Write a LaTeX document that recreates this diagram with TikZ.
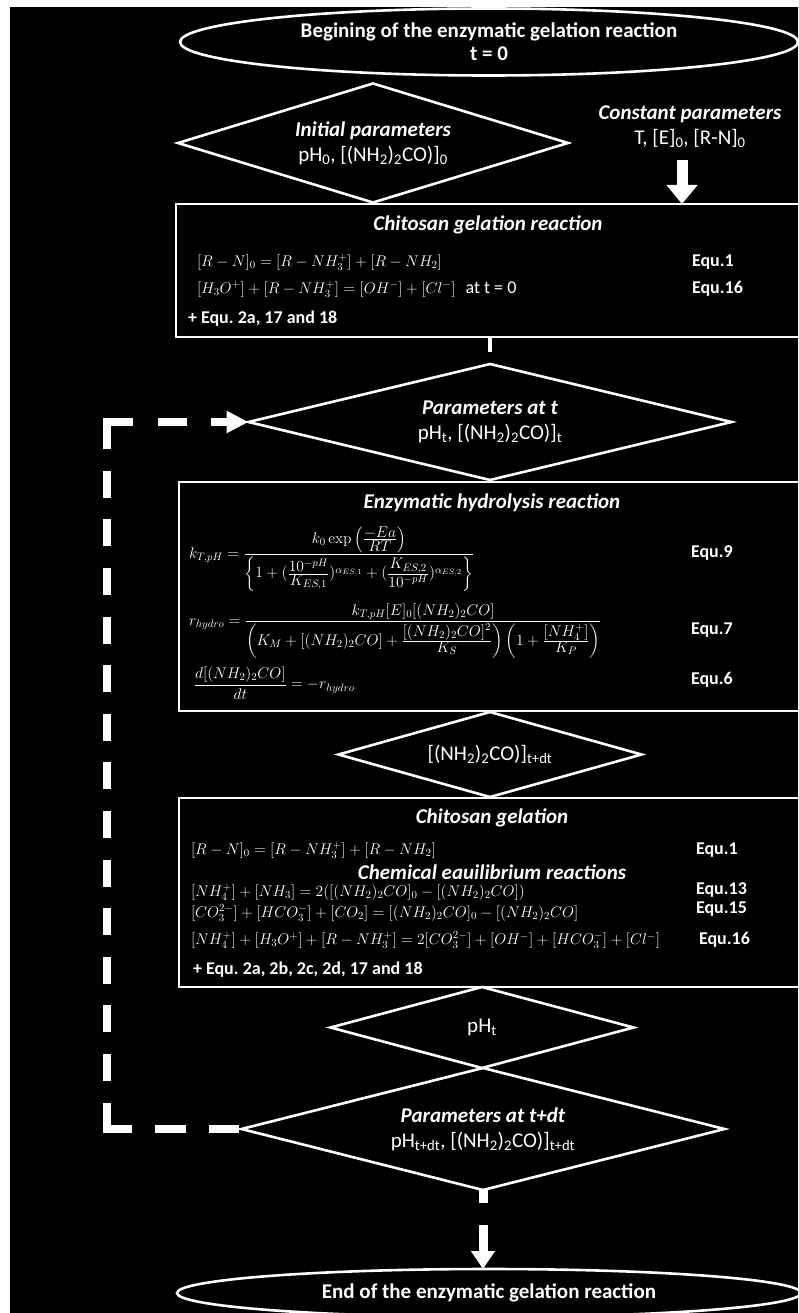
\RequirePackage{fix-cm}
\documentclass[tikz,border=0pt]{standalone}
\usepackage{amsmath}
\usepackage[no-math]{fontspec}
\setmainfont{Carlito}
\usetikzlibrary{shapes.geometric,arrows.meta}
\newcommand{\subx}[1]{\textsubscript{#1}}
\newcommand{\tsfrac}[2]{\frac{\textstyle #1}{\textstyle #2}}
\frenchspacing
\begin{document}
\begin{tikzpicture}[x=1pt,y=-1pt,
  every node/.style={text=white, inner sep=0pt, outer sep=0pt},
  outl/.style={draw=white, line width=2.6pt},
  termnode/.style={outl, ellipse, align=center, font=\bfseries\fontsize{21}{23}\selectfont},
  dianode/.style={outl, diamond, align=center, font=\fontsize{21}{25}\selectfont},
  boxnode/.style={outl, rectangle},
  ttl/.style={font=\bfseries\itshape\fontsize{21}{23}\selectfont},
  eqn/.style={anchor=west, font=\fontsize{15.5}{18}\selectfont},
  lbl/.style={anchor=west, font=\bfseries\fontsize{18}{22}\selectfont},
  loopline/.style={draw=white, line width=8pt,
    dash pattern=on 0pt off 3pt on 30pt off 23pt on 31pt off 23pt on 51pt
      off 21.6pt on 27pt off 21.6pt on 27pt off 21.6pt on 27pt off 21.6pt on 27pt
      off 21.6pt on 27pt off 21.6pt on 27pt off 21.6pt on 27pt off 21.6pt on 27pt
      off 21.6pt on 27pt off 21.6pt on 27pt off 21.6pt on 27pt off 21.6pt on 27pt
      off 21.6pt on 27pt
      off 21.6pt on 53pt off 25pt on 29pt off 24pt on 100pt,
    -{Triangle[width=21pt,length=22pt]}},
  bigarrow/.style={draw=white, line width=11pt, -{Triangle[width=30pt,length=19pt]}},
  endarrow/.style={draw=white, line width=9pt, dash pattern=on 13pt off 22pt on 60pt off 0pt, -{Triangle[width=23pt,length=18pt]}},
  shortline/.style={draw=white, line width=3.5pt, dash pattern=on 15pt off 40pt},
]
\useasboundingbox (0,0) rectangle (798,1313);
\fill[white] (0,0) rectangle (798,1313);
\fill[black] (10,7) rectangle (798,1313);

% terminals
\node[termnode, minimum width=618pt, minimum height=67pt] (start) at (489,42)
  {Begining of the enzymatic gelation reaction\\t = 0};
\node[termnode, minimum width=624pt, minimum height=48pt] (end) at (489,1293)
  {End of the enzymatic gelation reaction};

% initial parameters
\node[dianode, minimum width=390pt, minimum height=119pt, aspect=3.28] (p0) at (373,143)
  {\textbf{\textit{Initial parameters}}\\pH\subx{0}, [(NH\subx{2})\subx{2}CO)]\subx{0}};
\node[align=center, font=\fontsize{21}{25}\selectfont] (cpar) at (690,127)
  {\textbf{\textit{Constant parameters}}\\T, [E]\subx{0}, [R-N]\subx{0}};

% box 1
\node[boxnode, minimum width=644pt, minimum height=133pt] (box1) at (498,270.5) {};
\node[ttl] (b1t) at (488,225) {Chitosan gelation reaction};
\node[eqn] (b1e1) at (197,262) {$[R-N]_0=[R-NH_3^+]+[R-NH_2]$};
\node[eqn] (b1e2) at (197,289) {$[H_3O^+]+[R-NH_3^+]=[OH^-]+[Cl^-]$\hspace{10pt}{\fontsize{18}{22}\selectfont at t = 0}};
\node[lbl] (b1n) at (188,319) {+ Equ. 2a, 17 and 18};
\node[lbl] (b1l1) at (692,262) {Equ.1};
\node[lbl] (b1l2) at (692,289) {Equ.16};

% parameters at t
\node[dianode, minimum width=483pt, minimum height=116pt, aspect=4.16] (p1) at (490,422)
  {\textbf{\textit{Parameters at t}}\\pH\subx{t}, [(NH\subx{2})\subx{2}CO)]\subx{t}};

% box 2
\node[boxnode, minimum width=641pt, minimum height=229pt] (box2) at (499.5,596.5) {};
\node[ttl] (b2t) at (492,503) {Enzymatic hydrolysis reaction};
\node[eqn] (b2e1) at (189,559) {$k_{T,pH}=\dfrac{k_0\exp\left(\tsfrac{-Ea}{RT}\right)}{\left\{1+(\tsfrac{10^{-pH}}{K_{ES,1}})^{\alpha_{ES,1}}+(\tsfrac{K_{ES,2}}{10^{-pH}})^{\alpha_{ES,2}}\right\}}$};
\node[eqn] (b2e2) at (189,631) {$r_{hydro}=\dfrac{k_{T,pH}[E]_0[(NH_2)_2CO]}{\left(K_M+[(NH_2)_2CO]+\tsfrac{[(NH_2)_2CO]^2}{K_S}\right)\left(1+\tsfrac{[NH_4^+]}{K_P}\right)}$};
\node[eqn] (b2e3) at (194,683) {$\dfrac{d[(NH_2)_2CO]}{dt}=-r_{hydro}$};
\node[lbl] (b2l1) at (691,553) {Equ.9};
\node[lbl] (b2l2) at (691,630) {Equ.7};
\node[lbl] (b2l3) at (691,680) {Equ.6};

% urea at t+dt
\node[dianode, minimum width=303pt, minimum height=85pt, aspect=3.56] (pm) at (490,754.5)
  {[(NH\subx{2})\subx{2}CO)]\subx{t+dt}};

% box 3
\node[boxnode, minimum width=641pt, minimum height=189pt] (box3) at (499.5,892.5) {};
\node[ttl] (b3t) at (492,818) {Chitosan gelation};
\node[eqn] (b3e1) at (191,850) {$[R-N]_0=[R-NH_3^+]+[R-NH_2]$};
\begin{scope}
\clip (300,858) rectangle (700,878.5);
\node[ttl, text depth=0pt, anchor=base] (b3c) at (492,879.5) {Chemical equilibrium reactions};
\end{scope}
\node[eqn] (b3e2) at (191,892) {$[NH_4^+]+[NH_3]=2([(NH_2)_2CO]_0-[(NH_2)_2CO])$};
\node[eqn] (b3e3) at (191,913) {$[CO_3^{2-}]+[HCO_3^-]+[CO_2]=[(NH_2)_2CO]_0-[(NH_2)_2CO]$};
\node[eqn] (b3e4) at (191,940) {$[NH_4^+]+[H_3O^+]+[R-NH_3^+]=2[CO_3^{2-}]+[OH^-]+[HCO_3^-]+[Cl^-]$};
\node[lbl] (b3n) at (193,970) {+ Equ. 2a, 2b, 2c, 2d, 17 and 18};
\node[lbl] (b3l1) at (696,850) {Equ.1};
\node[lbl] (b3l2) at (696,890) {Equ.13};
\node[lbl] (b3l3) at (696,909) {Equ.15};
\node[lbl] (b3l4) at (699,940) {Equ.16};

% pH_t
\node[dianode, minimum width=303pt, minimum height=81pt, aspect=3.74] (ph) at (482,1027.5)
  {pH\subx{t}};

% parameters at t+dt
\node[dianode, minimum width=483pt, minimum height=122pt, aspect=3.96] (p3) at (483,1129)
  {\textbf{\textit{Parameters at t+dt}}\\pH\subx{t+dt}, [(NH\subx{2})\subx{2}CO)]\subx{t+dt}};

% connectors
\coordinate (ca) at (682,160);
\draw[bigarrow] (ca) -- (ca |- box1.north);
\draw[shortline] (p1.north |- box1.south) -- (p1.north);
\coordinate (loopx) at (107,0);
\draw[loopline] (p3.west) -- (p3.west -| loopx) |- (p1.west);
\draw[endarrow] (p3.south) -- (p3.south |- end.north);
\end{tikzpicture}
\end{document}
